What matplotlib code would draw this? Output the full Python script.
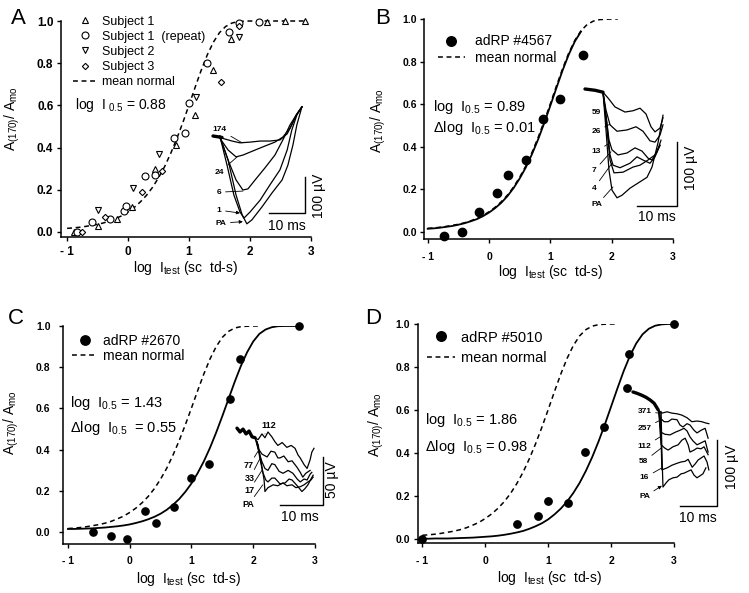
import matplotlib
matplotlib.use("Agg")
import matplotlib.pyplot as plt

plt.rcParams['font.family'] = ['Liberation Sans', 'DejaVu Sans']
plt.rcParams['mathtext.default'] = 'regular'

W, H = 749, 593

curve_x = [-1.0, -0.9, -0.8, -0.7, -0.6, -0.5, -0.4, -0.3, -0.2, -0.1,
           0.0, 0.1, 0.2, 0.3, 0.4, 0.5, 0.6, 0.7, 0.8, 0.9,
           1.0, 1.1, 1.2, 1.3, 1.4, 1.5, 1.6, 1.7, 1.8, 1.9,
           2.0, 2.1, 2.2, 2.3, 2.4, 2.5, 2.6, 2.7, 2.8, 2.9, 3.0]
normal_y = [0.017, 0.019, 0.022, 0.026, 0.031, 0.036, 0.043, 0.052, 0.064, 0.077,
            0.095, 0.116, 0.142, 0.173, 0.211, 0.257, 0.310, 0.373, 0.443, 0.520,
            0.602, 0.686, 0.767, 0.840, 0.900, 0.945, 0.974, 0.990, 0.997, 0.999,
            1.0, 1.0, 1.0, 1.0, 1.0, 1.0, 1.0, 1.0, 1.0, 1.0, 1.0]
b_fit_y = [0.015, 0.017, 0.020, 0.024, 0.028, 0.034, 0.041, 0.050, 0.060, 0.074,
           0.091, 0.112, 0.137, 0.168, 0.206, 0.251, 0.303, 0.365, 0.434, 0.511,
           0.593, 0.677, 0.759, 0.833, 0.895, 0.941]
c_fit_y = [0.015, 0.015, 0.016, 0.017, 0.018, 0.020, 0.022, 0.025, 0.028, 0.032,
           0.037, 0.044, 0.052, 0.062, 0.074, 0.089, 0.108, 0.132, 0.160, 0.195,
           0.236, 0.286, 0.343, 0.409, 0.483, 0.563, 0.646, 0.729, 0.806, 0.872,
           0.925, 0.962, 0.983, 0.994, 0.999, 1.0, 1.0, 1.0]
d_fit_y = [0.001, 0.001, 0.002, 0.002, 0.002, 0.003, 0.004, 0.005, 0.006, 0.008,
           0.010, 0.012, 0.015, 0.019, 0.024, 0.030, 0.037, 0.047, 0.059, 0.073,
           0.091, 0.114, 0.141, 0.174, 0.214, 0.261, 0.317, 0.381, 0.453, 0.532,
           0.616, 0.700, 0.781, 0.852, 0.910, 0.952, 0.978, 0.992, 0.998, 1.0, 1.0]

# panel A: normal observers
subj1_x = [-0.88, -0.49, -0.18, 0.07, 0.44, 0.78, 1.10, 1.39, 1.69, 2.28, 2.57, 2.90]
subj1_y = [0.0, 0.028, 0.062, 0.12, 0.30, 0.41, 0.555, 0.77, 0.915, 0.995, 1.0, 1.0]
subj1r_x = [-0.83, -0.59, -0.30, -0.07, -0.04, 0.28, 0.44, 0.75, 0.93, 1.00, 1.30, 1.66, 1.82, 2.15]
subj1r_y = [0.0, 0.047, 0.062, 0.10, 0.125, 0.265, 0.27, 0.445, 0.47, 0.61, 0.80, 0.95, 0.99, 0.995]
subj2_x = [-0.49, 0.08, 0.51, 1.11, 1.82]
subj2_y = [0.104, 0.21, 0.37, 0.64, 0.925]
subj3_x = [-0.76, -0.38, 0.23, 0.56, 1.52, 1.82]
subj3_y = [0.0, 0.07, 0.19, 0.29, 0.71, 0.975]

# panels B-D: adRP patients
b_x = [-0.73, -0.44, -0.16, 0.13, 0.31, 0.60, 0.88, 1.16, 1.53]
b_y = [-0.02, 0.0, 0.094, 0.183, 0.268, 0.338, 0.53, 0.624, 0.83]
c_x = [-0.60, -0.31, -0.05, 0.24, 0.43, 0.71, 0.99, 1.28, 1.63, 1.79, 2.74]
c_y = [0.0, -0.02, -0.035, 0.10, 0.043, 0.12, 0.26, 0.33, 0.645, 0.84, 1.0]
d_x = [-1.0, 0.51, 0.83, 1.0, 1.32, 1.58, 1.88, 2.25, 2.28, 3.0]
d_y = [0.0, 0.07, 0.107, 0.177, 0.167, 0.405, 0.52, 0.70, 0.86, 1.0]

# inset ERG traces: time (ms), amplitude (uV)
a_base = ([0, 2.5], [0, -4])
a_traces = {
    '174': ([2.5, 5.3, 7.5, 10.3, 13.1, 15.8, 18.6, 20.6, 21.9, 23.3, 24.7],
            [-6, -14, -19, -17, -14, -14, -11, 6, 31, 61, 81]),
    '24': ([1.9, 4.2, 6.4, 8.3, 11.7, 14.4, 17.2, 19.4, 21.4, 23.1, 24.7],
           [-6, -39, -58, -53, -39, -28, -17, -3, 22, 58, 81]),
    '6': ([1.9, 4.2, 6.4, 8.3, 9.7, 11.7, 14.4, 17.2, 19.4, 21.4, 23.1, 24.7],
          [-3, -67, -122, -150, -147, -122, -89, -53, -11, 31, 58, 81]),
    '1': ([1.9, 3.9, 5.8, 7.5, 8.6, 10.3, 13.1, 15.8, 18.6, 20.6, 21.9, 23.3, 24.7],
          [0, -81, -164, -211, -228, -211, -178, -136, -94, -39, 17, 58, 81]),
    'PA': ([1.9, 4.2, 6.4, 8.1, 9.4, 10.8, 13.6, 16.4, 19.2, 20.8, 22.2, 23.3, 24.7],
           [0, -67, -164, -219, -244, -233, -197, -158, -122, -81, -25, 31, 81]),
}
b_base = ([0, 2.5, 4.5], [0, -2, -5])
b_traces = {
    '59': ([4.5, 5.75, 7.5, 10, 12, 13.75, 15.25, 16.5, 17.5, 18.75, 19.5],
           [-5, -14, -28, -36, -34, -30, -39, -59, -67, -61, -45]),
    '26': ([4.5, 5.25, 6.25, 8, 10.5, 12.75, 14.5, 16.25, 17.5, 18.75, 19.5],
           [-5, -33, -56, -66, -64, -59, -66, -81, -83, -72, -56]),
    '13': ([4.5, 5.25, 6, 6.75, 8.25, 10.5, 12.5, 14.25, 15.75, 16.75, 18, 19],
           [-5, -41, -80, -95, -103, -100, -92, -97, -108, -111, -98, -80]),
    '7': ([4.5, 5.5, 6.25, 7, 8.75, 11.25, 13, 14.5, 16.25, 17.5, 18.75],
          [-5, -56, -103, -119, -123, -116, -106, -111, -116, -106, -88]),
    '4': ([4.5, 5.5, 6.25, 7.25, 9.5, 12, 13.75, 15.75, 17.5, 18.75],
          [-5, -64, -111, -131, -130, -122, -119, -111, -103, -88]),
    'PA': ([4.5, 5.25, 6, 6.75, 8, 9.25, 11.25, 13.25, 15.5, 16.75, 18.25, 19.5],
           [-5, -64, -127, -158, -170, -166, -155, -147, -138, -122, -84, -41]),
}
c_base = ([0, 0.7, 1.4, 2.1, 2.8, 3.5, 4.2], [4, 0, 3, -2, 1, -5, -6])
c_traces = {
    '112': ([4.2, 4.9, 5.8, 6.5, 7.2, 8.1, 8.8, 9.5, 10.5, 11.6, 12.6, 13.5, 14.2, 14.7, 15.6, 16.3, 17.0, 17.4, 17.9],
            [-6, -8, -2, -6, 0, -5, -10, -14, -11, -16, -14, -17, -24, -27, -34, -38, -29, -21, -17]),
    '77': ([4.2, 4.9, 5.8, 7.0, 7.9, 8.8, 9.5, 10.0, 10.9, 11.9, 12.8, 14.0, 14.7, 15.3, 16.0, 17.0],
           [-6, -17, -23, -26, -20, -21, -27, -27, -25, -31, -30, -37, -42, -47, -43, -40]),
    '33': ([4.4, 5.1, 5.8, 6.5, 7.2, 8.1, 8.8, 9.8, 10.7, 11.9, 13.0, 14.0, 14.7, 15.6, 16.3, 17.0, 17.4],
           [-8, -21, -31, -38, -40, -33, -34, -41, -43, -40, -43, -49, -52, -49, -50, -44, -42]),
    '17': ([4.7, 5.3, 6.0, 6.7, 7.2, 8.1, 8.8, 10.0, 11.2, 12.1, 12.8, 14.0, 15.1, 15.8, 16.5, 17.2, 17.7],
           [-10, -27, -42, -50, -52, -48, -48, -54, -53, -49, -50, -56, -62, -59, -55, -49, -45]),
    'PA': ([4.9, 5.6, 6.3, 6.5, 7.2, 8.4, 9.5, 10.7, 11.6, 12.8, 13.7, 14.7, 15.6, 16.5, 17.2, 17.7],
           [-13, -31, -50, -62, -58, -55, -56, -53, -56, -55, -58, -57, -55, -52, -50, -47]),
}
d_base = ([0, 1.1, 2.4, 3.5, 4.6, 5.7, 6.8], [0, -2, -5, -8, -12, -17, -27])
d_traces = {
    '371': ([6.8, 7.8, 9.2, 10.5, 11.9, 13.2, 14.6, 15.9, 17.3, 18.6, 19.7, 20.5],
            [-27, -32, -30, -32, -33, -35, -39, -45, -44, -45, -47, -48]),
    '257': ([6.8, 7.3, 8.4, 9.5, 10.5, 11.9, 12.7, 13.5, 14.6, 15.4, 16.5, 17.3, 18.4, 19.5, 20.3],
            [-27, -39, -45, -45, -41, -42, -50, -53, -48, -50, -58, -62, -58, -55, -70]),
    '112': ([7.0, 7.3, 7.6, 8.6, 10.0, 11.4, 12.7, 13.8, 14.6, 15.4, 16.2, 17.3, 18.4, 19.5, 20.3],
            [-30, -50, -61, -64, -65, -61, -58, -55, -59, -68, -74, -80, -77, -74, -91]),
    '58': ([7.0, 7.3, 7.6, 8.6, 9.5, 10.8, 12.2, 13.2, 14.1, 14.9, 15.4, 16.5, 17.3, 18.4, 19.2, 20.3],
           [-30, -58, -80, -85, -88, -83, -80, -73, -70, -80, -91, -88, -85, -86, -83, -95]),
    '16': ([7.3, 7.6, 7.8, 9.2, 10.5, 11.9, 13.0, 14.1, 14.9, 16.0, 16.8, 17.6, 18.4, 19.2, 20.0, 20.5],
           [-30, -73, -118, -115, -111, -108, -106, -105, -102, -114, -109, -103, -100, -97, -106, -118]),
    'PA': ([7.6, 7.8, 8.1, 8.9, 9.7, 10.8, 11.9, 13.0, 13.8, 14.9, 15.7, 16.5, 17.3, 18.1, 18.9, 19.7],
           [-30, -88, -144, -138, -133, -130, -129, -124, -123, -120, -118, -126, -130, -127, -124, -115]),
}

fig = plt.figure(figsize=(7.49, 5.93), dpi=100)


def px_axes(x0, y0, x1, y1):
    return fig.add_axes([x0 / W, 1 - y1 / H, (x1 - x0) / W, (y1 - y0) / H])


def setup(ax, xlo, ylo, fs, xpad, ypad):
    ax.set_xlim(xlo, 3.0)
    ax.set_ylim(ylo, 1.0)
    for s in ('top', 'right'):
        ax.spines[s].set_visible(False)
    for s in ('left', 'bottom'):
        ax.spines[s].set_linewidth(1.1)
    ax.set_xticks([-1, 0, 1, 2, 3])
    ax.set_xticklabels(['- 1', '0', '1', '2', '3'])
    ax.set_yticks([0, 0.2, 0.4, 0.6, 0.8, 1.0])
    ax.set_yticklabels(['0.0', '0.2', '0.4', '0.6', '0.8', '1.0'])
    ax.tick_params(direction='out', length=3, width=1.0, labelsize=fs)
    ax.tick_params(axis='x', pad=xpad)
    ax.tick_params(axis='y', pad=ypad)
    for lab in ax.get_xticklabels() + ax.get_yticklabels():
        lab.set_fontweight('bold')
    ax.set_xlabel(r'log  I$_{test}$ (sc  td-s)', fontsize=10)
    ax.set_ylabel(r'A$_{(170)}$/ A$_{mo}$', fontsize=10)


def draw_inset(rect, origin, scale, base, traces, labels, bar, bar_text, fs):
    x0, y0, x1, y1 = rect
    ox, oy = origin
    sx, sy = scale
    ins = px_axes(x0, y0, x1, y1)
    ins.set_xlim((x0 - ox) / sx, (x1 - ox) / sx)
    ins.set_ylim((oy - y1) / sy, (oy - y0) / sy)
    ins.axis('off')
    ins.plot(base[0], base[1], color='k', lw=2.4, solid_capstyle='round')
    for t, v in traces.values():
        ins.plot(t, v, color='k', lw=0.9)
    for txt, tx, ty, ax_, ay, arrow in labels:
        if ax_ is None:
            ins.text(tx, ty, txt, fontsize=fs, fontweight='bold', ha='center', va='center')
        else:
            ins.annotate(txt, xy=(ax_, ay), xytext=(tx, ty), fontsize=fs, fontweight='bold',
                         ha='center', va='center',
                         arrowprops=dict(arrowstyle='-|>' if arrow else '-', lw=0.6,
                                         color='k', shrinkA=1, shrinkB=0,
                                         mutation_scale=5))
    bx, by, bw, bh = bar
    ins.plot([bx - bw, bx, bx], [by, by, by + bh], color='k', lw=1.0)
    (mx, my), (ux, uy), ulabel = bar_text
    ins.text(mx, my, '10 ms', fontsize=10, ha='center', va='center')
    ins.text(ux, uy, ulabel, fontsize=10, ha='center', va='center', rotation=90)


dash = (3.2, 2.4)

# ---------------- A ----------------
axA = px_axes(61, 21, 311, 237)
setup(axA, -1.1, -0.024, 8.5, 3.5, 2.5)
axA.plot(subj1_x, subj1_y, '^', ms=4.8, mfc='white', mec='k', mew=0.8, ls='none',
         label='Subject 1', clip_on=False, zorder=3)
axA.plot(subj1r_x, subj1r_y, 'o', ms=5, mfc='white', mec='k', mew=0.8, ls='none',
         label='Subject 1  (repeat)', clip_on=False, zorder=3)
axA.plot(subj2_x, subj2_y, 'v', ms=4.8, mfc='white', mec='k', mew=0.8, ls='none',
         label='Subject 2', clip_on=False, zorder=3)
axA.plot(subj3_x, subj3_y, 'D', ms=3.2, mfc='white', mec='k', mew=0.8, ls='none',
         label='Subject 3', clip_on=False, zorder=3)
axA.plot(curve_x[:40], normal_y[:40], color='k', lw=1.1, ls=(0, dash),
         label='mean normal', clip_on=False)
axA.legend(loc='upper left', bbox_to_anchor=(0.048, 1.025), frameon=False, fontsize=9,
           borderpad=0, borderaxespad=0, handlelength=1.9, handletextpad=0.45,
           labelspacing=0.25, numpoints=1)
axA.text(-0.87, 0.60, r'log  I$_{\ 0.5}$ = 0.88', fontsize=10, va='center')
axA.xaxis.set_label_coords(0.5, -0.1)
axA.yaxis.set_label_coords(-0.156, 0.55)

draw_inset((200, 95, 325, 240), (213, 136), (3.6, 0.36), a_base, a_traces,
           [('174', 1.9, 17, 8.1, -19, False),
            ('24', 1.9, -100, 6.7, -58, False),
            ('6', 1.7, -156, 8.3, -153, False),
            ('1', 1.7, -206, 7.5, -214, True),
            ('PA', 2.2, -242, 8.3, -238, True)],
           (25.6, -215, 10, 100), ((20.6, -250), (29.4, -167), '100 µV'), 6)

# ---------------- B ----------------
axB = px_axes(424, 19, 673, 239)
setup(axB, -1.06, -0.033, 7.5, 6, 2)
axB.plot(b_x, b_y, 'o', ms=6, color='k', ls='none', label='adRP #4567',
         clip_on=False, zorder=3)
axB.plot(curve_x[:32], normal_y[:32], color='k', lw=1.1, ls=(0, dash), label='mean normal')
axB.plot(curve_x[:26], b_fit_y, color='k', lw=1.3)
axB.legend(loc='upper left', bbox_to_anchor=(0.056, 0.93), frameon=False, fontsize=10,
           borderpad=0, borderaxespad=0, handlelength=1.95, handletextpad=0.7,
           labelspacing=0.2, numpoints=1, markerscale=1.15)
axB.text(-0.91, 0.587, r'log  I$_{0.5}$ = 0.89', fontsize=10.5, va='center')
axB.text(-0.91, 0.488, r'Δlog  I$_{0.5}$ = 0.01', fontsize=10.5, va='center')
axB.xaxis.set_label_coords(0.51, -0.108)
axB.yaxis.set_label_coords(-0.145, 0.54)

draw_inset((580, 80, 700, 225), (585, 89), (4.0, 0.64), b_base, b_traces,
           [('59', 2.75, -37, None, None, False),
            ('26', 2.75, -66, 6.25, -55, False),
            ('13', 2.75, -98, 6.25, -84, False),
            ('7', 2.25, -128, 6.5, -98, False),
            ('4', 2.25, -155, 6.75, -116, False),
            ('PA', 3.0, -181, 7.0, -153, False)],
           (23, -183, 10, 100), ((18, -200), (26.5, -123), '100 µV'), 6)

# ---------------- C ----------------
axC = px_axes(63, 326, 315, 544)
setup(axC, -1.08, -0.058, 7.5, 6, 6)
axC.plot(c_x, c_y, 'o', ms=5.2, color='k', ls='none', label='adRP #2670',
         clip_on=False, zorder=3)
axC.plot(curve_x[:32], normal_y[:32], color='k', lw=1.1, ls=(0, dash), label='mean normal')
axC.plot(curve_x[:38], c_fit_y, color='k', lw=1.3)
axC.legend(loc='upper left', bbox_to_anchor=(0.036, 0.963), frameon=False, fontsize=10,
           borderpad=0, borderaxespad=0, handlelength=1.8, handletextpad=0.4,
           labelspacing=0.05, numpoints=1, markerscale=1.3)
axC.text(-0.97, 0.626, r'log  I$_{0.5}$ = 1.43', fontsize=10.5, va='center')
axC.text(-0.97, 0.505, r'Δlog  I$_{0.5}$  = 0.55', fontsize=10.5, va='center')
axC.xaxis.set_label_coords(0.5, -0.118)
axC.yaxis.set_label_coords(-0.167, 0.555)

draw_inset((230, 415, 340, 525), (237, 432), (4.3, 0.96), c_base, c_traces,
           [('112', 7.4, 7, 6.5, -2, False),
            ('77', 2.8, -35, 4.9, -20, False),
            ('33', 3.0, -48, 5.3, -28, False),
            ('17', 2.8, -61, 5.8, -40, False),
            ('PA', 2.6, -76, 6.0, -55, False)],
           (20, -76, 10, 50), ((14.7, -89), (22.0, -50), '50 µV'), 6.5)

# ---------------- D ----------------
axD = px_axes(418, 324, 674, 543)
setup(axD, -1.07, -0.019, 7.5, 6, 2.5)
axD.plot(d_x, d_y, 'o', ms=5.3, color='k', ls='none', label='adRP #5010',
         clip_on=False, zorder=3)
axD.plot(curve_x[:32], normal_y[:32], color='k', lw=1.1, ls=(0, dash), label='mean normal')
axD.plot(curve_x, d_fit_y, color='k', lw=1.3)
axD.legend(loc='upper left', bbox_to_anchor=(0.035, 0.97), frameon=False, fontsize=10.5,
           borderpad=0, borderaxespad=0, handlelength=1.9, handletextpad=0.45,
           labelspacing=0.45, numpoints=1, markerscale=1.3)
axD.text(-0.96, 0.553, r'log  I$_{0.5}$ = 1.86', fontsize=10.5, va='center')
axD.text(-0.96, 0.428, r'Δlog  I$_{0.5}$ = 0.98', fontsize=10.5, va='center')
axD.xaxis.set_label_coords(0.516, -0.118)
axD.yaxis.set_label_coords(-0.125, 0.54)

draw_inset((625, 380, 745, 525), (633, 392), (3.7, 0.66), d_base, d_traces,
           [('371', 3.1, -30, 7.3, -32, False),
            ('257', 3.1, -55, 7.6, -42, False),
            ('112', 3.1, -83, 7.6, -67, False),
            ('58', 2.8, -106, 7.6, -85, False),
            ('16', 3.1, -130, 7.8, -115, False),
            ('PA', 3.1, -159, 7.8, -142, True)],
           (22.7, -173, 10, 100), ((17.6, -191), (26.8, -114), '100 µV'), 6)

# panel letters
for letter, (lx, ly) in zip('ABCD', [(18, 18), (383, 18), (16, 318), (373, 318)]):
    fig.text(lx / W, 1 - ly / H, letter, fontsize=16, ha='center', va='center')

fig.savefig('out.png', dpi=100)
